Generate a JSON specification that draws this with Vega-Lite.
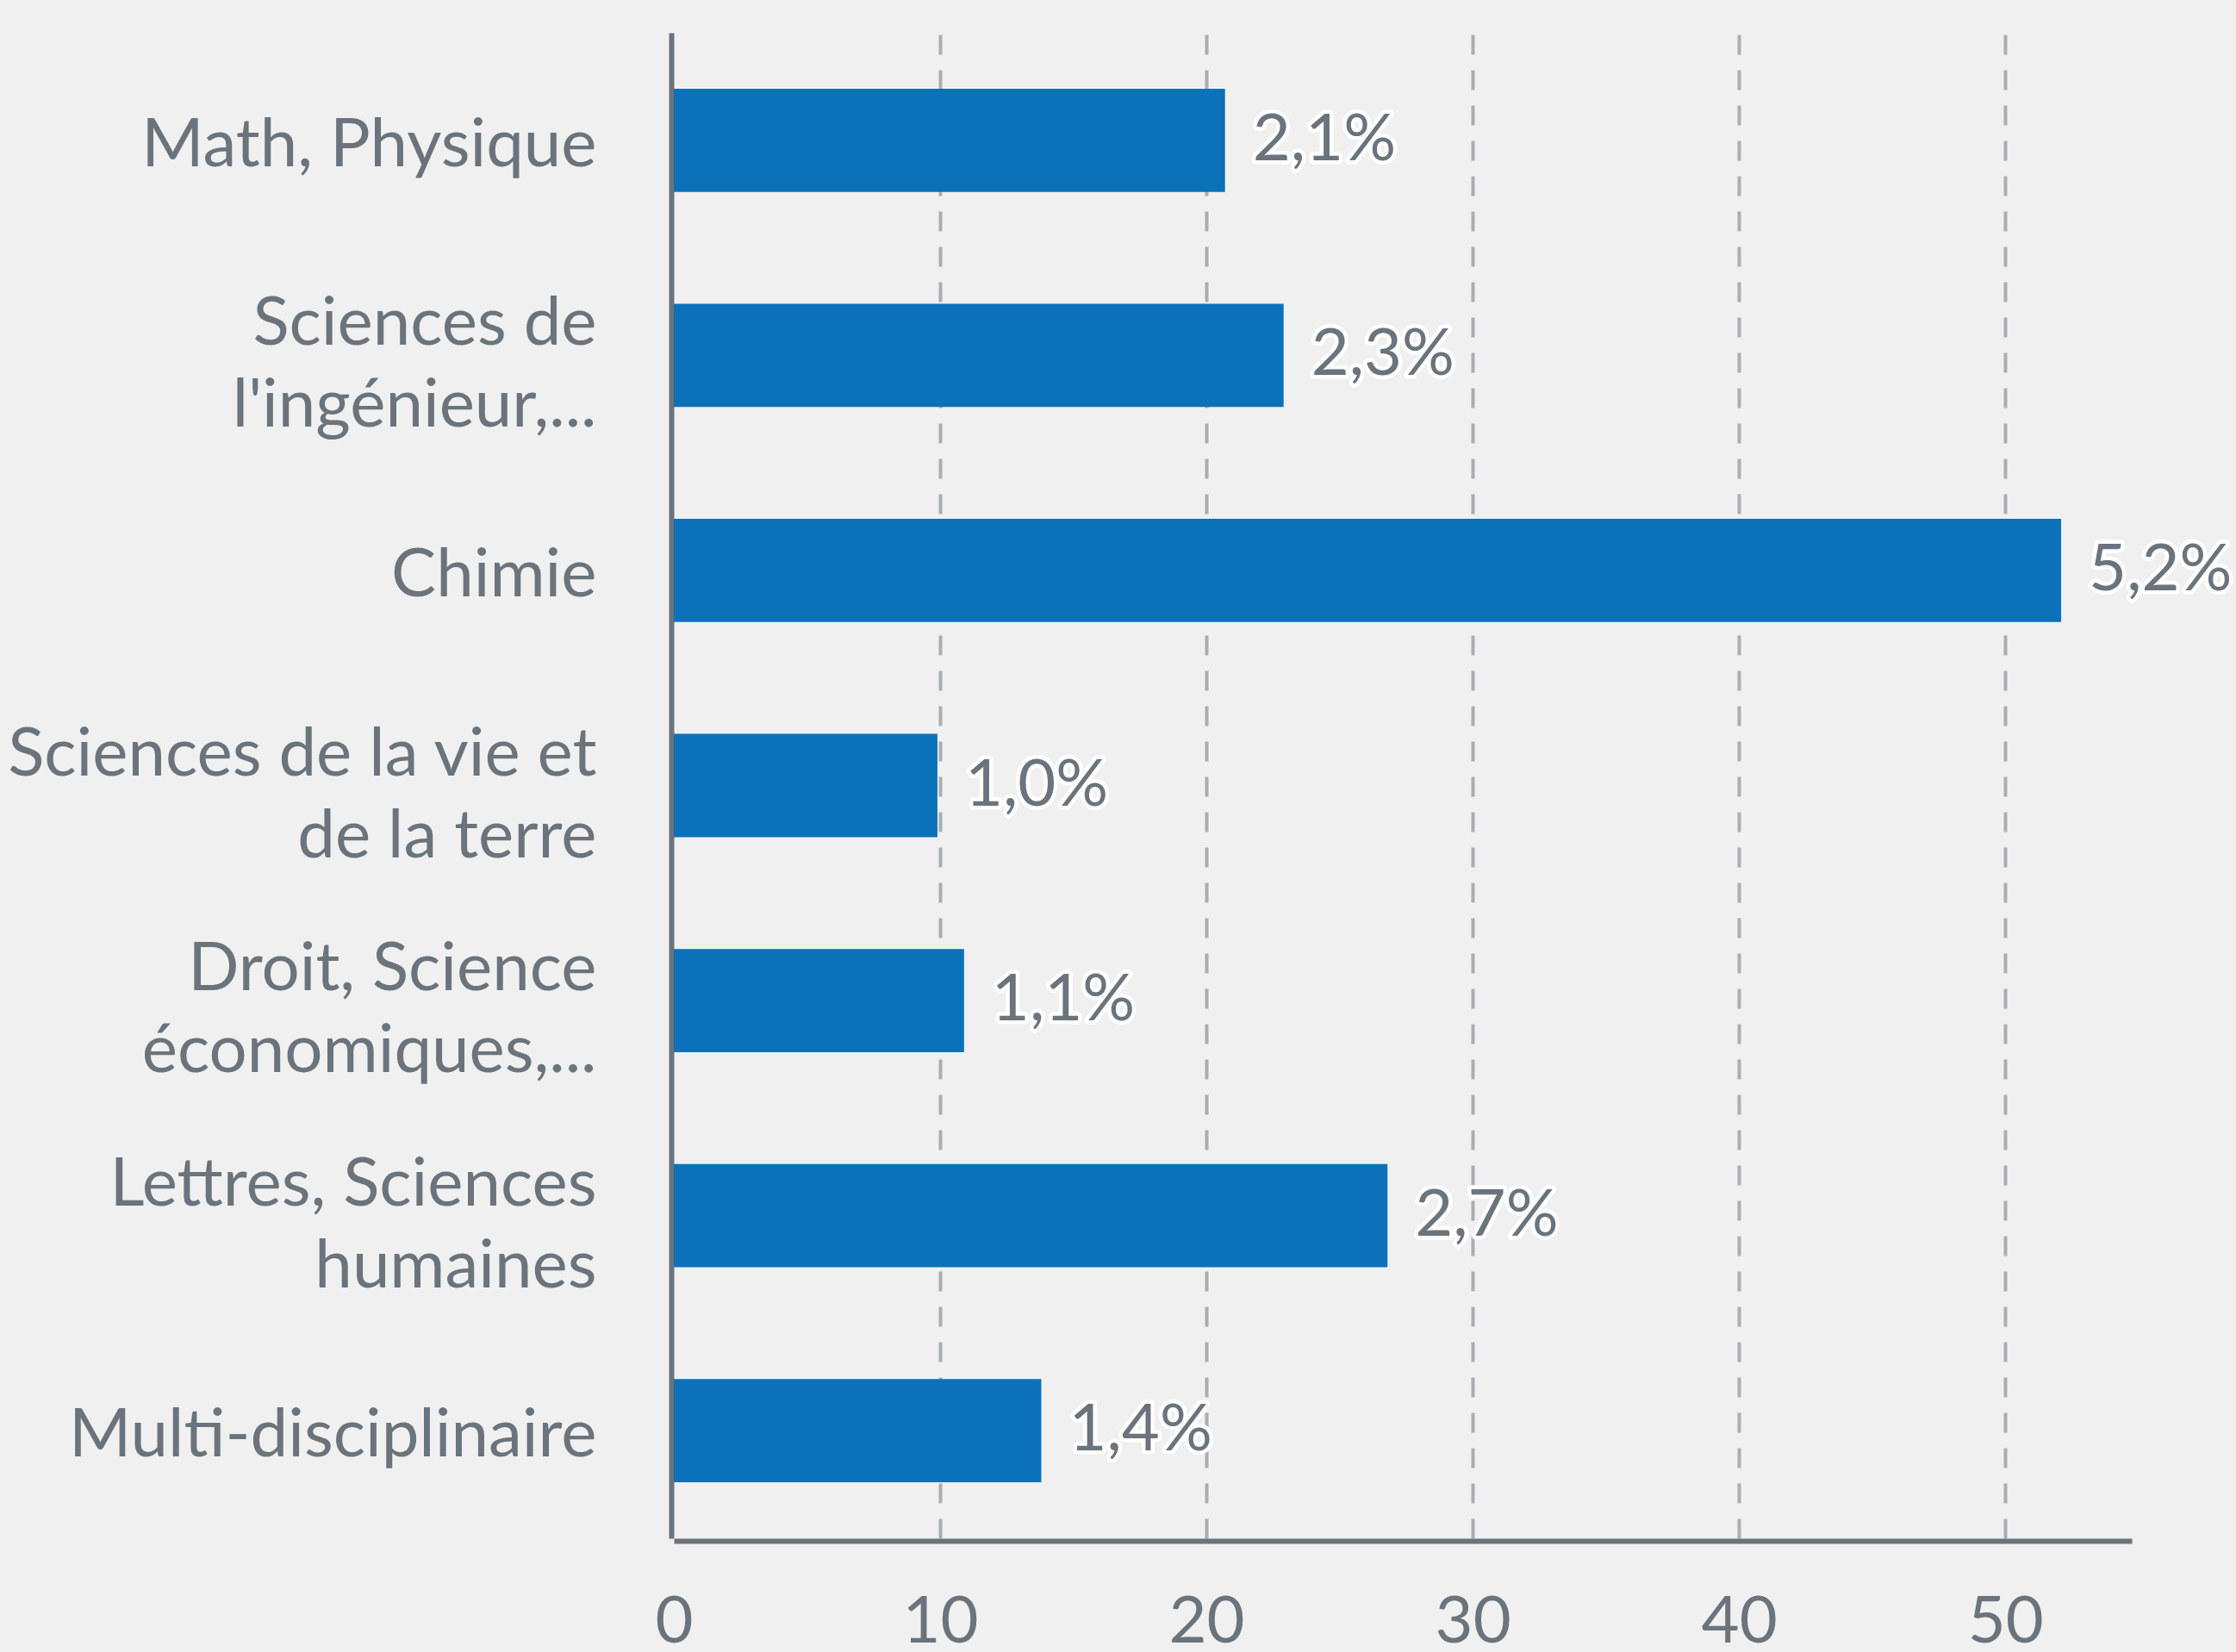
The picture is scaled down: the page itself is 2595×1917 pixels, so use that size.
{
  "$schema": "https://vega.github.io/schema/vega-lite/v6.json",
  "width": 1692,
  "height": 1747,
  "autosize": "none",
  "padding": {"left": 782, "top": 38, "right": 121, "bottom": 132},
  "background": "#f0f0f0",
  "config": {"view": {"stroke": null}, "font": "Lato"},
  "data": {
    "values": [
      {"cat": "Math, Physique", "value": 20.7, "label": "2,1%"},
      {"cat": "Sciences de|l'ingénieur,...", "value": 22.9, "label": "2,3%"},
      {"cat": "Chimie", "value": 52.1, "label": "5,2%"},
      {"cat": "Sciences de la vie et|de la terre", "value": 9.9, "label": "1,0%"},
      {"cat": "Droit, Science|économiques,...", "value": 10.9, "label": "1,1%"},
      {"cat": "Lettres, Sciences|humaines", "value": 26.8, "label": "2,7%"},
      {"cat": "Multi-disciplinaire", "value": 13.8, "label": "1,4%"}
    ]
  },
  "encoding": {
    "y": {
      "field": "cat",
      "type": "nominal",
      "sort": null,
      "scale": {"paddingInner": 0.52, "paddingOuter": 0.26},
      "axis": {
        "title": null,
        "grid": false,
        "domainColor": "#6b737b",
        "domainWidth": 6,
        "offset": 3,
        "ticks": false,
        "tickSize": 0,
        "labelPadding": 87,
        "labelFontSize": 78,
        "labelFont": "Lato",
        "labelColor": "#6b747c",
        "labelLineHeight": 95,
        "labelLimit": 1000,
        "labelOffset": {"condition": {"test": "indexof(datum.value, '|') >= 0", "value": -35}, "value": 7},
        "labelExpr": "split(datum.value, '|')"
      }
    },
    "x": {
      "field": "value",
      "type": "quantitative",
      "scale": {"domain": [0, 54.75], "nice": false},
      "axis": {
        "title": null,
        "values": [0, 10, 20, 30, 40, 50],
        "grid": true,
        "gridDash": [23, 18],
        "gridWidth": 4,
        "gridColor": {"condition": {"test": "datum.value === 0", "value": "transparent"}, "value": "#aaaeb2"},
        "ticks": false,
        "tickSize": 0,
        "labelPadding": 57,
        "labelFontSize": 76,
        "labelFont": "Lato",
        "labelColor": "#6b747c",
        "labelFlush": false,
        "domainColor": "#6b737b",
        "domainWidth": 6,
        "offset": 3
      }
    }
  },
  "layer": [
    {"mark": {"type": "bar", "color": "#0b72b9"}},
    {
      "mark": {"type": "text", "align": "left", "baseline": "middle", "dx": 32, "font": "Lato", "fontSize": 76, "fill": "white", "stroke": "white", "strokeWidth": 9, "strokeJoin": "round"},
      "encoding": {"text": {"field": "label"}}
    },
    {
      "mark": {"type": "text", "align": "left", "baseline": "middle", "dx": 32, "font": "Lato", "fontSize": 76, "fill": "#6b747c"},
      "encoding": {"text": {"field": "label"}}
    }
  ]
}
